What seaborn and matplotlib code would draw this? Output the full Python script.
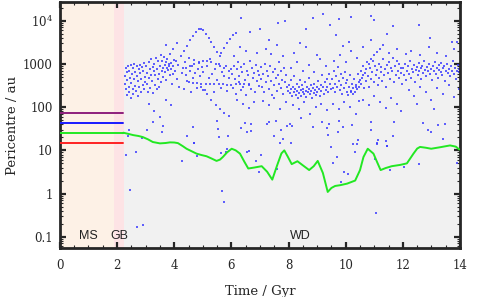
import matplotlib
matplotlib.use("Agg")
import matplotlib.pyplot as plt
import numpy as np
import pandas as pd
import seaborn as sns
from matplotlib.ticker import FixedLocator, LogLocator, NullFormatter, MultipleLocator

# stellar phases: name, start, end (Gyr)
phase_names = ["MS", "GB", "WD"]
phase_edges = [0.0, 1.9, 2.25, 14.0]
phase_colors = ["#fdf1e6", "#fde3e5", "#f1f1f1"]

# planets before the white dwarf phase (constant pericentres)
pre_t = [0.0, 2.2]
planet_peri = {"purple": 74, "blue": 44, "green": 25, "red": 15}
planet_colors = {"purple": "#8e1f7c", "blue": "#1a1aff", "green": "#22e822", "red": "#ff2222"}

# surviving planet after the giant branch
green_t = [2.2, 2.22, 2.4, 2.57, 2.75, 2.9, 3.08, 3.25, 3.5, 3.7, 3.85, 4.0, 4.13, 4.3, 4.43,
           4.6, 4.78, 4.95, 5.13, 5.3, 5.48, 5.6, 5.7, 5.85, 6.01, 6.15, 6.3, 6.45, 6.59,
           6.8, 7.06, 7.25, 7.43, 7.6, 7.75, 7.85, 7.97, 8.11, 8.31, 8.5, 8.72, 8.88, 9.02,
           9.2, 9.37, 9.5, 9.63, 9.8, 10.05, 10.33, 10.5, 10.62, 10.77, 10.97, 11.1, 11.22,
           11.4, 11.61, 11.9, 12.14, 12.37, 12.5, 12.6, 12.8, 12.99, 13.3, 13.65, 13.85, 13.97]
green_p = [25, 25.6, 24, 22.5, 21.5, 20.3, 18, 15.6, 14.5, 14.8, 15.3, 15.2, 14.7, 12.5, 10.9,
           9.6, 8.4, 7.8, 7.3, 6.5, 5.7, 6.1, 7.0, 9.0, 10.9, 10.0, 8.4, 5.5, 3.8,
           4.0, 4.3, 3.2, 2.1, 4.5, 8.5, 10, 7.2, 4.8, 5.6, 4.5, 3.5, 4.3, 5.7,
           3.0, 1.09, 1.35, 1.5, 1.56, 1.7, 2.0, 3.5, 7.0, 10.9, 8.4, 5.3, 3.5,
           3.9, 4.3, 4.6, 5.0, 8.4, 11, 12, 11.5, 10.9, 11.8, 13, 12.2, 10.5]

# scattered asteroid pericentres (t in Gyr, q in au)
band_t = [2.27, 2.28, 2.30, 2.31, 2.33, 2.35, 2.36, 2.38, 2.40, 2.42, 2.43, 2.45, 2.47, 2.48, 2.50,
          2.52, 2.54, 2.55, 2.57, 2.59, 2.60, 2.62, 2.64, 2.66, 2.68, 2.70, 2.72, 2.73, 2.75, 2.77,
          2.79, 2.81, 2.83, 2.85, 2.87, 2.89, 2.91, 2.93, 2.95, 2.97, 2.99,
          3.02, 3.04, 3.06, 3.08, 3.10, 3.12, 3.14, 3.16, 3.18, 3.20, 3.22, 3.24, 3.26, 3.28, 3.30,
          3.32, 3.34, 3.36, 3.38, 3.40, 3.42, 3.44, 3.46, 3.48, 3.50, 3.52, 3.54, 3.56, 3.58, 3.60,
          3.62, 3.64, 3.66, 3.68, 3.70, 3.72, 3.74, 3.76, 3.78, 3.80, 3.82, 3.84, 3.86, 3.88, 3.90,
          3.92, 3.94, 3.96, 3.98,
          4.02, 4.06, 4.10, 4.14, 4.18, 4.22, 4.26, 4.30, 4.34, 4.38, 4.42, 4.46, 4.50, 4.54, 4.58,
          4.62, 4.66, 4.70, 4.74, 4.78, 4.82, 4.86, 4.90, 4.94, 4.98,
          5.02, 5.08, 5.14, 5.20, 5.26, 5.32, 5.38, 5.44, 5.50, 5.56, 5.62, 5.68, 5.74, 5.80, 5.86,
          5.92, 5.98,
          6.02, 6.05, 6.08, 6.12, 6.15, 6.18, 6.22, 6.25, 6.28, 6.32, 6.35, 6.38, 6.42, 6.45, 6.48,
          6.52, 6.55, 6.58, 6.62, 6.65, 6.68, 6.72, 6.75, 6.78, 6.82, 6.85, 6.88, 6.92, 6.95, 6.98,
          7.02, 7.05, 7.08, 7.12, 7.15, 7.18, 7.22, 7.25, 7.28, 7.32, 7.35, 7.38, 7.42, 7.45, 7.48,
          7.52, 7.55, 7.58, 7.62, 7.65, 7.68, 7.72, 7.75, 7.78, 7.82, 7.85, 7.88, 7.92, 7.95, 7.98,
          8.02, 8.05, 8.08, 8.10, 8.12, 8.15, 8.18, 8.20, 8.22, 8.25, 8.28, 8.30, 8.32, 8.35, 8.38,
          8.40, 8.42, 8.45, 8.48, 8.50, 8.52, 8.55, 8.58, 8.60, 8.62, 8.65, 8.68, 8.70, 8.72, 8.75,
          8.78, 8.80, 8.82, 8.85, 8.88, 8.90, 8.92, 8.95, 8.98, 9.00, 9.03, 9.06, 9.09, 9.12, 9.15,
          9.18, 9.21, 9.24, 9.27, 9.30, 9.33, 9.36, 9.39, 9.42, 9.45, 9.48,
          9.52, 9.55, 9.58, 9.61, 9.64, 9.67, 9.70, 9.73, 9.76, 9.79, 9.82, 9.85, 9.88, 9.91, 9.94,
          9.97, 10.00, 10.03, 10.06, 10.09, 10.12, 10.15, 10.18, 10.21, 10.24, 10.27, 10.30, 10.33,
          10.36, 10.39, 10.42, 10.45, 10.48,
          10.52, 10.55, 10.58, 10.62, 10.65, 10.68, 10.72, 10.75, 10.78, 10.82, 10.85, 10.88, 10.92,
          10.95, 10.98, 11.02, 11.05, 11.08, 11.12, 11.15, 11.18, 11.22, 11.25, 11.28, 11.32, 11.35,
          11.38, 11.42, 11.45, 11.48, 11.52, 11.55, 11.58, 11.62, 11.65, 11.68, 11.72, 11.75, 11.78,
          11.82, 11.85, 11.88, 11.92, 11.95, 11.98,
          12.02, 12.05, 12.08, 12.12, 12.15, 12.18, 12.22, 12.25, 12.28, 12.32, 12.35, 12.38, 12.42,
          12.45, 12.48, 12.52, 12.55, 12.58, 12.62, 12.65, 12.68, 12.72, 12.75, 12.78, 12.82, 12.85,
          12.88, 12.92, 12.95, 12.98, 13.02, 13.05, 13.08, 13.12, 13.15, 13.18, 13.22, 13.25, 13.28,
          13.32, 13.35, 13.38, 13.42, 13.45, 13.48, 13.52, 13.55, 13.58, 13.62, 13.65, 13.68, 13.72,
          13.75, 13.78, 13.82, 13.85, 13.88, 13.92, 13.95, 13.98]
band_q = [350, 520, 800, 260, 190, 640, 420, 900, 300, 230, 700, 480, 160, 950, 360,
          580, 270, 820, 200, 440, 1000, 310, 650, 240, 880, 520, 180, 400, 760, 290,
          960, 610, 220, 450, 850, 330, 700, 260, 1050, 500, 380,
          900, 340, 620, 230, 1100, 480, 780, 280, 560, 1300, 400, 850, 210, 690, 1000,
          320, 540, 1400, 260, 760, 450, 1150, 600, 300, 900, 1600, 380, 700, 1200, 500,
          820, 1450, 650, 950, 1100, 420, 800, 1300, 720, 1000, 880, 560, 1700, 760, 1050,
          340, 900, 600, 1250,
          700, 1200, 450, 950, 300, 1500, 620, 820, 260, 1100, 560, 400, 1350, 700, 230,
          900, 480, 1250, 620, 280, 780, 1050, 520, 300, 860,
          640, 250, 900, 470, 1300, 600, 220, 760, 430, 1000, 280, 650, 520, 900, 240,
          480, 760,
          600, 280, 900, 450, 200, 750, 1100, 380, 520, 250, 850, 640, 300, 1000, 430,
          190, 700, 560, 350, 1200, 260, 800, 480, 620, 220, 950, 400, 700, 310, 540,
          450, 850, 300, 600, 220, 1000, 380, 700, 520, 260, 900, 410, 190, 640, 330,
          780, 470, 240, 560, 1100, 350, 680, 280, 430, 200, 820, 380, 560, 300, 240,
          320, 210, 420, 260, 180, 300, 230, 520, 270, 190, 350, 240, 160, 290, 210,
          420, 250, 180, 330, 230, 270, 200, 380, 240, 170, 300, 220, 260, 480, 200,
          320, 240, 160, 280, 210, 350, 250, 190, 300, 230, 410, 260, 180, 320, 240,
          550, 290, 200, 380, 250, 460, 300, 220, 600, 340, 260,
          450, 280, 700, 350, 220, 520, 300, 850, 400, 250, 600, 330, 200, 480, 280,
          650, 360, 230, 420, 190, 300, 550, 240, 350, 200, 280, 450, 230,
          320, 260, 600, 380, 290,
          700, 350, 480, 900, 280, 620, 400, 1100, 520, 300, 800, 450, 650,
          1200, 380, 900, 550, 720, 320, 1000, 480, 650, 850, 400, 1300, 560,
          750, 300, 950, 620, 1100, 450, 800, 680, 1400, 380, 900, 560, 1150,
          700, 480, 1000, 620, 820, 350,
          800, 550, 1000, 420, 700, 900, 600, 1150, 480, 780, 650, 950, 380,
          720, 850, 560, 1050, 680, 800, 450, 900, 620, 1200, 740, 520, 860,
          680, 1000, 580, 780, 420, 900, 700, 1100, 600, 820, 480, 950, 720,
          650, 1050, 560, 800, 880, 400, 700, 1000, 620, 760, 520, 900, 680,
          1150, 580, 820, 450, 700, 950, 640, 780]

# coherent tracks of dots (arcs) seen in the cloud
track_t = [4.35, 4.45, 4.55, 4.65, 4.75, 4.85, 4.92, 5.0, 5.1, 5.2, 5.3, 5.4, 5.5, 5.6,
           4.4, 4.55, 4.7, 4.85, 5.0, 5.15, 5.3, 5.45, 5.6, 5.75, 5.9,
           4.5, 4.65, 4.8, 4.95, 5.1, 5.25, 5.4, 5.55, 5.7, 5.85, 6.0, 6.15, 6.3, 6.45, 6.6,
           5.0, 5.15, 5.3, 5.45, 5.6, 5.75, 5.9,
           5.65, 5.75, 5.85, 5.95, 6.05, 6.15,
           10.2, 10.35, 10.5, 10.6, 10.7, 10.8, 10.9, 11.0, 11.1, 11.2,
           3.7, 3.95, 4.1]
track_q = [2000, 2600, 3500, 4500, 5600, 6400, 6500, 6000, 5000, 4000, 3200, 2500, 1900, 1500,
           800, 900, 1000, 1100, 1150, 1150, 1100, 1000, 900, 800, 700,
           380, 370, 360, 350, 350, 340, 340, 350, 340, 330, 330, 340, 350, 340, 330,
           250, 200, 150, 115, 90, 75, 62,
           1800, 2400, 3000, 3800, 4600, 5200,
           220, 300, 420, 560, 750, 1000, 1300, 1600, 1900, 2200,
           2800, 2200, 3000]

# sparse dots above the main cloud
high_t = [6.32, 6.65, 7.0, 7.62, 7.88, 8.6, 8.84, 9.19, 9.45, 9.65, 9.78, 10.2, 10.9, 11.0,
          11.43, 11.67, 12.58, 12.95, 13.71, 13.88, 6.1, 6.3, 6.5, 6.9, 7.2, 7.3, 7.4, 7.6, 7.8,
          8.1, 8.2, 8.3, 8.4, 8.5, 8.6, 8.7, 8.9, 9.0, 9.1, 9.3, 9.6, 9.8, 9.9, 10.0, 10.1, 10.2,
          10.4, 10.6, 10.9, 11.3, 11.5, 11.8, 12.1, 12.3, 12.6, 12.9, 13.2, 13.5, 13.8]
high_q = [11700, 5400, 6400, 8800, 10000, 6400, 11600, 14000, 8000, 4700, 11000, 12000, 12600, 10600,
          5000, 7600, 8100, 4000, 3200, 3200, 1500, 2500, 2000, 1800, 2200, 3500, 1700, 2800, 1500,
          800, 1800, 1100, 3000, 700, 2500, 950, 650, 1600, 1300, 900, 1200, 1600, 2600, 1100, 3200, 2000,
          1400, 2500, 3500, 2800, 1800, 2200, 1700, 2000, 1600, 2500, 1800, 1500, 2200]

# sparse dots below the main cloud
low_t = [2.3, 2.66, 2.45, 2.68, 2.9, 4.26, 4.7, 4.78, 5.66, 5.74, 5.8, 6.53, 6.6, 6.86, 6.97,
         7.03, 7.7, 8.1, 7.58, 9.5, 9.68, 9.56, 9.84, 9.95, 10.09, 10.33, 10.26, 11.03, 11.06,
         11.1, 11.45, 11.55, 12.04, 12.57, 13.9,
         2.42, 2.38, 3.06, 2.88, 3.62, 3.56, 4.64, 4.46, 4.69, 5.5, 5.54, 5.58, 5.62, 5.88, 5.86,
         6.32, 6.47, 6.68, 6.7, 6.56, 7.23, 7.32, 7.56, 7.5, 7.72, 7.82, 7.93, 8.05, 8.11, 8.84,
         9.16, 9.33, 9.41, 9.38, 9.74, 9.78, 9.92, 10.23, 10.42, 10.41, 10.9, 10.87, 11.14, 11.08,
         11.4, 11.46, 11.64, 11.7, 12.7, 12.87, 12.99, 13.22, 13.47, 13.4,
         3.1, 3.3, 3.5, 3.7, 3.9, 3.25, 6.2, 6.4, 6.6, 6.8, 7.1, 7.3, 7.5, 7.7, 7.9,
         8.15, 8.35, 8.55, 8.75, 8.95, 9.15, 9.35, 8.45, 9.55, 9.75, 9.95, 10.15, 10.35, 10.45,
         10.6, 10.8, 11.0, 11.2, 11.4, 11.6, 11.8, 11.95, 12.2, 12.4, 12.6, 12.8, 13.0, 13.2,
         13.4, 13.6, 13.8, 13.95, 12.5, 13.1]
low_q = [7.8, 9.0, 1.2, 0.17, 0.19, 5.6, 14.5, 7.6, 1.13, 0.64, 9.0, 9.0, 9.5, 5.6, 3.1,
         8.0, 14.5, 14.5, 3.8, 11.7, 7.0, 5.1, 1.86, 3.15, 2.9, 9.0, 13.7, 6.2, 0.36,
         14.5, 12.6, 3.6, 4.1, 4.8, 5.1,
         29, 21, 29, 19, 36, 26, 34, 22, 14.7, 49, 32, 20, 8.8, 22, 11,
         33, 44, 40, 28, 26, 41, 45, 47, 21, 30, 18.6, 36, 40, 36, 34.5,
         45, 33, 40, 23, 26.5, 47, 34.5, 38, 17.6, 13.7, 45, 29, 17.6, 13.7,
         16.3, 12.3, 22, 45, 43, 29, 26, 38, 40, 18,
         120, 80, 60, 150, 110, 45, 150, 120, 95, 130, 140, 110, 160, 90, 130,
         110, 90, 130, 70, 100, 120, 85, 55, 120, 90, 130, 100, 70, 140,
         150, 110, 180, 130, 95, 160, 120, 80, 250, 180, 300, 220, 150, 280,
         200, 320, 170, 260, 120, 90]

sns.set_style("ticks")
plt.rcParams["font.family"] = ["DejaVu Serif"]
plt.rcParams["mathtext.fontset"] = "dejavuserif"

fig = plt.figure(figsize=(4.91, 2.97), dpi=100)
ax = fig.add_axes([0.122, 0.165, 0.815, 0.828])

for name, lo, hi, col in zip(phase_names, phase_edges[:-1], phase_edges[1:], phase_colors):
    ax.axvspan(lo, hi, color=col, lw=0, zorder=0)

dots = pd.DataFrame({
    "t": band_t + track_t + high_t + low_t,
    "q": band_q + track_q + high_q + low_q,
})
sns.scatterplot(data=dots, x="t", y="q", ax=ax, color="#3a3aff", marker="s", s=1.8,
                linewidth=0, alpha=0.8, zorder=2)

for key, q in planet_peri.items():
    sns.lineplot(x=pre_t, y=[q, q], ax=ax, color=planet_colors[key], lw=1.4, zorder=3)

sns.lineplot(x=green_t, y=green_p, ax=ax, color=planet_colors["green"], lw=1.4,
             sort=False, estimator=None, zorder=3)

ax.set_yscale("log")
ax.set_xlim(0, 14)
ax.set_ylim(0.055, 2.7e4)

ax.xaxis.set_major_locator(MultipleLocator(2))
ax.xaxis.set_minor_locator(MultipleLocator(0.5))
ax.yaxis.set_major_locator(FixedLocator([0.1, 1, 10, 100, 1000, 1e4]))
ax.set_yticklabels(["0.1", "1", "10", "100", "1000", r"$10^4$"])
ax.yaxis.set_minor_locator(LogLocator(base=10, subs=np.arange(2, 10)))
ax.yaxis.set_minor_formatter(NullFormatter())

ax.tick_params(which="both", direction="in", top=True, right=True, labelsize=8.5)
ax.tick_params(axis="x", pad=8)
ax.tick_params(axis="y", pad=5)
ax.tick_params(which="major", length=4, width=1.6)
ax.tick_params(which="minor", length=2.5, width=0.8)
for sp in ax.spines.values():
    sp.set_linewidth(2)
    sp.set_visible(True)

ax.set_xlabel("Time / Gyr", fontsize=9.5, labelpad=9)
ax.set_ylabel("Pericentre / au", fontsize=9.5, labelpad=3)

label_x = [1.0, 2.07, 8.4]
for name, lx in zip(phase_names, label_x):
    ax.text(lx, 0.075, name, ha="center", va="bottom", fontsize=9,
            family=["Liberation Sans", "DejaVu Sans"], color="#222222", zorder=4)

fig.savefig("out.png", dpi=100)
